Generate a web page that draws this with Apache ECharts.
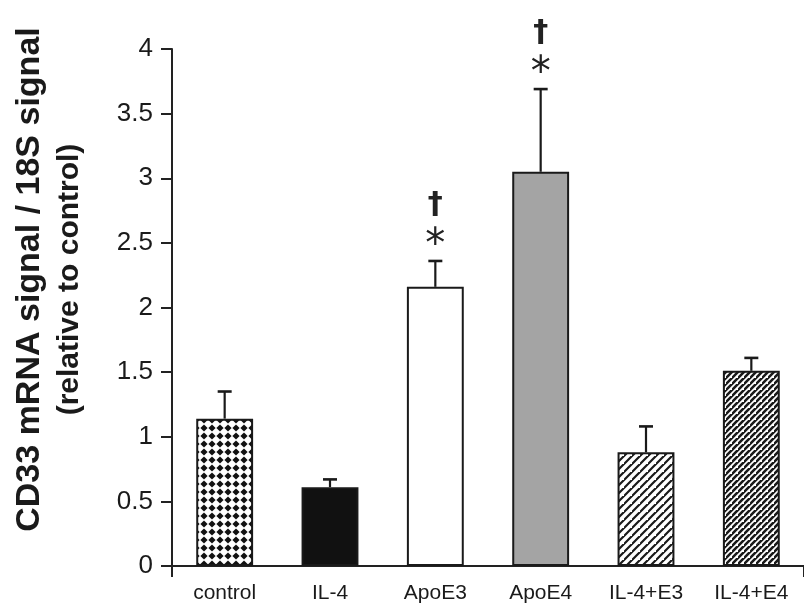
<!DOCTYPE html>
<html>
<head>
<meta charset="utf-8">
<script src="https://cdn.jsdelivr.net/npm/echarts@6/dist/echarts.min.js"></script>
<style>
  html, body { margin: 0; padding: 0; background: #fff; }
  #chart { width: 804px; height: 614px; }
</style>
</head>
<body>
<div id="chart"></div>
<script>
// data
var categories = ['control', 'IL-4', 'ApoE3', 'ApoE4', 'IL-4+E3', 'IL-4+E4'];
var means      = [1.14, 0.61, 2.16, 3.05, 0.88, 1.51];
var errTops    = [1.35, 0.67, 2.36, 3.69, 1.08, 1.61];
var hasDagger  = [false, false, true, true, false, false];
var hasStar    = [false, false, true, true, false, false];
var yTicks     = [0, 0.5, 1, 1.5, 2, 2.5, 3, 3.5, 4];

var myChart = echarts.init(document.getElementById('chart'));

// fill patterns
var makeTile = function (size, draw) {
    var c = document.createElement('canvas');
    c.width = size; c.height = size;
    var ctx = c.getContext('2d');
    ctx.fillStyle = '#fff';
    ctx.fillRect(0, 0, size, size);
    draw(ctx, size);
    return c;
};

var diamonds = makeTile(8, function (ctx, s) {
    ctx.fillStyle = '#111';
    ctx.beginPath();
    ctx.moveTo(s / 2, 0.4);
    ctx.lineTo(s - 0.4, s / 2);
    ctx.lineTo(s / 2, s - 0.4);
    ctx.lineTo(0.4, s / 2);
    ctx.closePath();
    ctx.fill();
});

var hatch = function (s, w) {
    return makeTile(s, function (ctx, size) {
        ctx.strokeStyle = '#1a1a1a';
        ctx.lineWidth = w;
        ctx.beginPath();
        ctx.moveTo(-1, size + 1); ctx.lineTo(size + 1, -1);
        ctx.moveTo(-size - 1, size + 1); ctx.lineTo(1, -1);
        ctx.moveTo(size - 1, 2 * size + 1); ctx.lineTo(2 * size + 1, size - 1);
        ctx.stroke();
    });
};

var fills = [
    { image: diamonds, repeat: 'repeat' },
    '#111',
    '#fff',
    '#a4a4a4',
    { image: hatch(8, 2.2), repeat: 'repeat' },
    { image: hatch(6, 2.6), repeat: 'repeat' }
];

var barData = means.map(function (v, i) {
    return { value: v, itemStyle: { color: fills[i] } };
});

var errData = means.map(function (v, i) { return [i, v, errTops[i]]; });
var sigData = errTops.map(function (v, i) { return [i, v, hasDagger[i] ? 1 : 0, hasStar[i] ? 1 : 0]; });

var textFont = 'Liberation Sans, Arial, sans-serif';

var option = {
    animation: false,
    backgroundColor: '#fff',
    grid: { left: 172, right: -10, top: 49, bottom: 48 },
    xAxis: {
        type: 'category',
        data: categories,
        axisLine: { lineStyle: { color: '#222', width: 2 } },
        axisTick: {
            show: true,
            length: 11,
            interval: function (i) { return i === 0; },
            lineStyle: { color: '#222', width: 2 }
        },
        axisLabel: { color: '#1a1a1a', fontSize: 21, fontFamily: textFont, margin: 17 }
    },
    yAxis: {
        type: 'value',
        min: yTicks[0],
        max: yTicks[yTicks.length - 1],
        interval: 0.5,
        splitLine: { show: false },
        axisLine: { show: true, lineStyle: { color: '#222', width: 2 } },
        axisTick: { show: true, length: 11, lineStyle: { color: '#222', width: 2 } },
        axisLabel: { color: '#1a1a1a', fontSize: 26, fontFamily: textFont, margin: 19 },
        name: '{a|CD33 mRNA signal / 18S signal}\n{b|(relative to control)}',
        nameLocation: 'middle',
        nameGap: 82,
        nameTextStyle: {
            padding: [0, 0, 0, 56],
            rich: {
                a: { fontSize: 34, fontWeight: 'bold', fontFamily: textFont, color: '#1a1a1a', lineHeight: 40 },
                b: { fontSize: 30, fontWeight: 'bold', fontFamily: textFont, color: '#1a1a1a', lineHeight: 40 }
            }
        }
    },
    series: [
        {
            type: 'bar',
            data: barData,
            barWidth: '54%',
            itemStyle: { borderColor: '#1a1a1a', borderWidth: 2 }
        },
        {
            type: 'custom',
            data: errData,
            z: 5,
            clip: false,
            renderItem: function (params, api) {
                var base = api.coord([api.value(0), api.value(1)]);
                var top = api.coord([api.value(0), api.value(2)]);
                var half = 7;
                return {
                    type: 'group',
                    children: [
                        { type: 'line', shape: { x1: base[0], y1: base[1], x2: top[0], y2: top[1] },
                          style: { stroke: '#1a1a1a', lineWidth: 2.2 } },
                        { type: 'line', shape: { x1: top[0] - half, y1: top[1], x2: top[0] + half, y2: top[1] },
                          style: { stroke: '#1a1a1a', lineWidth: 2.6 } }
                    ]
                };
            }
        },
        {
            type: 'custom',
            data: sigData,
            z: 6,
            clip: false,
            renderItem: function (params, api) {
                var p = api.coord([api.value(0), api.value(1)]);
                var kids = [];
                if (api.value(3)) {
                    kids.push({ type: 'text', x: p[0], y: p[1] - 14,
                        style: { text: '*', fill: '#222', font: '40px DejaVu Sans', align: 'center', verticalAlign: 'middle' } });
                }
                if (api.value(2)) {
                    kids.push({ type: 'text', x: p[0], y: p[1] - 56,
                        style: { text: '\u2020', fill: '#222', font: 'bold 30px DejaVu Sans', align: 'center', verticalAlign: 'middle' } });
                }
                return { type: 'group', children: kids };
            }
        }
    ]
};

myChart.setOption(option);
</script>
</body>
</html>
